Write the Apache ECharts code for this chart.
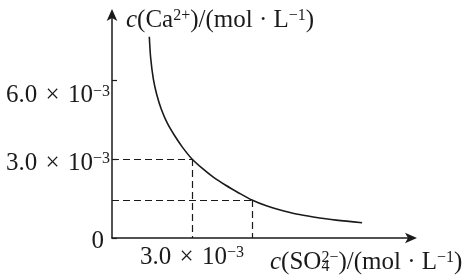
<!DOCTYPE html>
<html>
<head>
<meta charset="utf-8">
<script src="https://cdn.jsdelivr.net/npm/echarts@6/dist/echarts.min.js"></script>
<style>
html,body{margin:0;padding:0;background:#fff;}
#c{width:468px;height:275px;}
</style>
</head>
<body>
<div id="c"></div>
<script>
// values in units of 10^-3 mol/L
const curveX = [1.40, 1.45, 1.55, 1.68, 1.85, 2.07, 2.34, 2.64, 3.00, 3.39, 3.80, 4.25, 4.74, 5.25, 5.79, 6.31, 6.91, 7.55, 8.41, 9.38];
const curveY = [7.64, 6.84, 6.04, 5.44, 4.89, 4.37, 3.90, 3.45, 3.00, 2.64, 2.31, 2.01, 1.72, 1.44, 1.22, 1.06, 0.91, 0.80, 0.68, 0.58];
const point1 = [3.0, 3.0];
const point2 = [5.25, 1.44];
const yTicks = [0, 3.0, 6.0];
const xTickLabels = [3.0];
const xMax = 11.29, yMax = 8.54;

const FONT = 'Liberation Serif';
const INK = '#1a1a1a';
const rich = {
  a: {fontSize: 25, fontFamily: FONT, color: INK},
  s: {fontSize: 16, fontFamily: FONT, color: INK, verticalAlign: 'top'},
  i: {fontSize: 25, fontFamily: FONT, color: INK, fontStyle: 'italic'},
  sub: {fontSize: 16, fontFamily: FONT, color: INK, verticalAlign: 'bottom', width: 0.01},
  z: {fontSize: 25, fontFamily: FONT, color: INK, padding: [6, 6, 0, 0]},
  a3: {fontSize: 25, fontFamily: FONT, color: INK, padding: [9, 0, 0, 0]},
  s3: {fontSize: 16, fontFamily: FONT, color: INK, verticalAlign: 'top', padding: [9, 0, 0, 0]},
  a6: {fontSize: 25, fontFamily: FONT, color: INK, padding: [32, 0, 0, 0]},
  s6: {fontSize: 16, fontFamily: FONT, color: INK, verticalAlign: 'top', padding: [32, 0, 0, 0]}
};
function sci(v, k) {
  k = k || '';
  return '{a' + k + '|' + v.toFixed(1) + '\u2004×\u200410}{s' + k + '|−3}';
}

const data = curveX.map((x, i) => [x, curveY[i]]);
const chart = echarts.init(document.getElementById('c'), null, {renderer: 'canvas'});
chart.setOption({
  animation: false,
  backgroundColor: '#fff',
  grid: {left: 112, top: 13, right: 55, bottom: 37},
  xAxis: {
    type: 'value', min: 0, max: xMax, interval: 3,
    splitLine: {show: false},
    axisTick: {show: false},
    axisLine: {lineStyle: {color: INK, width: 1.5}, symbol: ['none', 'arrow'], symbolSize: [8, 12], symbolOffset: [0, 4]},
    axisLabel: {
      margin: 7, showMaxLabel: false,
      formatter: v => xTickLabels.some(t => Math.abs(t - v) < 1e-6) ? sci(v) : '',
      rich: rich
    },
    name: '{i|c}{a|(SO}{sub|4}{s|2−}{a|)/(mol · L}{s|−1}{a|)}',
    nameLocation: 'end', nameGap: -143,
    nameTextStyle: {align: 'left', verticalAlign: 'top', padding: [12, 0, 0, 0], rich: rich}
  },
  yAxis: {
    type: 'value', min: 0, max: yMax, interval: 3,
    splitLine: {show: false},
    axisTick: {show: true, inside: true, length: 5, lineStyle: {color: INK, width: 1.2}},
    axisLine: {lineStyle: {color: INK, width: 1.5}, symbol: ['none', 'arrow'], symbolSize: [8, 12], symbolOffset: [0, 4]},
    axisLabel: {
      margin: 2, showMaxLabel: false,
      formatter: v => {
        if (v === 0) return '{z|0}';
        if (!yTicks.some(t => Math.abs(t - v) < 1e-6)) return '';
        return sci(v, Math.round(v));
      },
      rich: rich
    },
    name: '{i|c}{a|(Ca}{s|2+}{a|)/(mol · L}{s|−1}{a|)}',
    nameLocation: 'end', nameGap: -7,
    nameTextStyle: {align: 'left', verticalAlign: 'middle', padding: [0, 0, 0, 14], rich: rich}
  },
  series: [{
    type: 'line', smooth: 0.3, showSymbol: false, data: data,
    lineStyle: {color: INK, width: 1.6},
    markLine: {
      silent: true, symbol: 'none', label: {show: false},
      lineStyle: {color: INK, width: 1.2, type: [7, 4]},
      data: [
        [{coord: [0, point1[1]]}, {coord: [point1[0], point1[1]]}],
        [{coord: [point1[0], point1[1]]}, {coord: [point1[0], 0]}],
        [{coord: [0, point2[1]]}, {coord: [point2[0], point2[1]]}],
        [{coord: [point2[0], point2[1]]}, {coord: [point2[0], 0]}]
      ]
    }
  }]
});
</script>
</body>
</html>
